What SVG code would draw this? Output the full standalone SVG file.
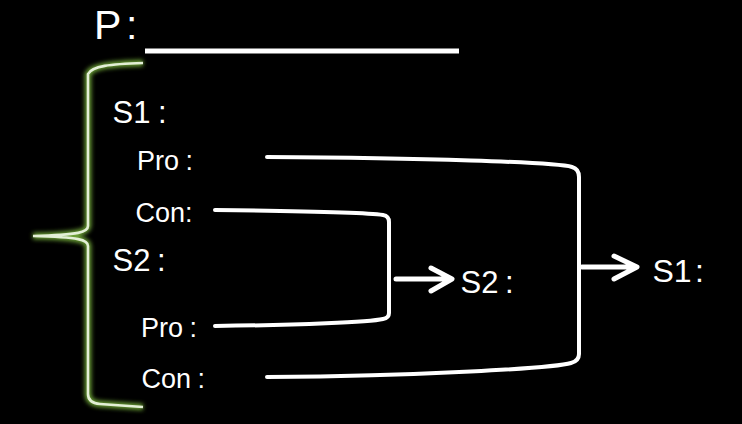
<svg xmlns="http://www.w3.org/2000/svg" width="742" height="424" viewBox="0 0 742 424">
<defs>
<style>
text{font-family:"Liberation Sans",Arial,sans-serif;fill:#fff}
.big{font-size:41px}
.lbl{font-size:31px}
.sm{font-size:27px}
.conn{fill:none;stroke:#fff;stroke-width:4;stroke-linecap:round;stroke-linejoin:round}
.arr{fill:none;stroke:#fff;stroke-width:5;stroke-linecap:round;stroke-linejoin:round}
</style>
<filter id="glow" x="-50%" y="-10%" width="200%" height="120%">
<feGaussianBlur stdDeviation="2"/>
</filter>
</defs>
<rect width="742" height="424" fill="#000"/>
<g id="title">
<text class="big" x="94" y="39">P<tspan x="126">:</tspan></text>
<rect x="145" y="48.5" width="314" height="5" fill="#fff"/>
</g>
<g id="brace">
<path d="M143,63 C110,64 92,66 88,74 L88,226 C88,232 80,235 33,236 C80,237 88,240 88,246 L88,394 Q88,403 100,404 L143,407" fill="none" stroke="#6a9f35" stroke-width="6.5" filter="url(#glow)"/>
<path d="M143,63 C110,64 92,66 88,74 L88,226 C88,232 80,235 33,236 C80,237 88,240 88,246 L88,394 Q88,403 100,404 L143,407" fill="none" stroke="#e3efd6" stroke-width="2.6"/>
</g>
<g id="s1-left"><text class="lbl" x="112.5" y="123">S1<tspan x="158">:</tspan></text></g>
<g id="pro1"><text class="sm" x="137" y="170">Pro<tspan x="185.5">:</tspan></text></g>
<g id="con1"><text class="sm" x="135.5" y="222">Con<tspan x="185">:</tspan></text></g>
<g id="s2-left"><text class="lbl" x="112.5" y="271">S2<tspan x="157">:</tspan></text></g>
<g id="pro2"><text class="sm" x="141" y="337">Pro<tspan x="189.5">:</tspan></text></g>
<g id="con2"><text class="sm" x="141.5" y="388">Con<tspan x="197.5">:</tspan></text></g>
<g id="s2-right"><text class="lbl" x="460.5" y="293">S2<tspan x="505">:</tspan></text></g>
<g id="s1-right"><text style="font-size:32px" x="652.5" y="282">S1<tspan x="695">:</tspan></text></g>
<g id="connectors">
<path class="conn" d="M267,157 C420,158 555,162 572,167 Q579,169 579,177 L579,354 Q579,361 571,363 C555,368 420,376 267,377"/>
<path class="conn" d="M215,210 C300,211 370,213 383,215 Q389,216 389,222 L389,313 Q389,318 383,319 C370,322 300,325 215,326"/>
<path class="arr" d="M396,279 L451,279 M431,268 L452,279 L431,291"/>
<path class="arr" d="M582,267 L636,267 M614,256 L637,267 L614,279"/>
</g>
</svg>
